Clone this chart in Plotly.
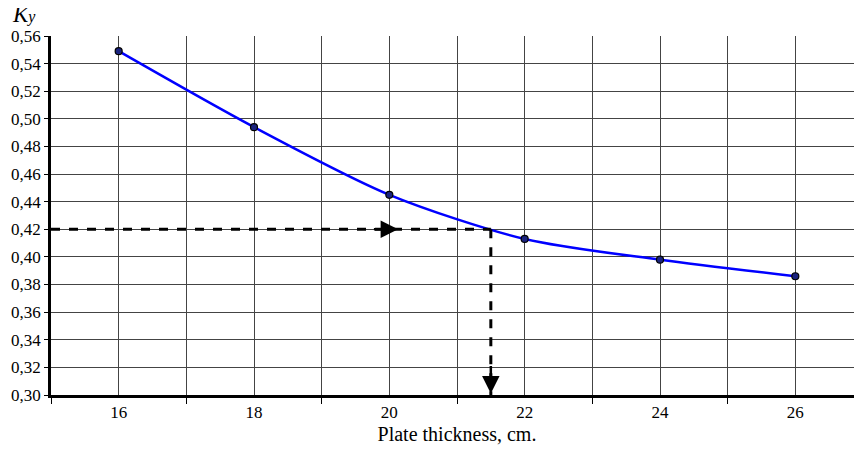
import plotly.graph_objects as go

thickness = [16, 18, 20, 22, 24, 26]
ky_values = [0.549, 0.494, 0.445, 0.413, 0.398, 0.386]
x_label_vals = [16, 18, 20, 22, 24, 26]
x_minor_vals = [15, 17, 19, 21, 23, 25, 27]
y_tick_vals = [0.30, 0.32, 0.34, 0.36, 0.38, 0.40, 0.42, 0.44, 0.46, 0.48, 0.50, 0.52, 0.54, 0.56]
y_tick_text = [f"{v:.2f}".replace(".", ",") for v in y_tick_vals]
read_ky = 0.42
read_thickness = 21.5

FONT = "Liberation Serif, Times New Roman, serif"
GRID = "#444444"

fig = go.Figure()
fig.add_trace(go.Scatter(
    x=thickness, y=ky_values, mode="lines+markers",
    line=dict(color="#0000FF", width=2.5, shape="spline", smoothing=0.8),
    marker=dict(size=7, color="#1a237e", line=dict(color="black", width=1.2)),
    showlegend=False, hoverinfo="x+y",
))

# dashed reading lines
fig.add_shape(type="line", x0=15, x1=read_thickness, y0=read_ky, y1=read_ky,
              line=dict(color="black", width=3, dash="dash"), layer="above")
fig.add_shape(type="line", x0=read_thickness, x1=read_thickness, y0=read_ky, y1=0.30,
              line=dict(color="black", width=3, dash="dash"), layer="above")

# arrows
fig.add_annotation(x=20.13, y=read_ky, ax=19.75, ay=read_ky, xref="x", yref="y",
                   axref="x", ayref="y", text="", showarrow=True,
                   arrowhead=2, arrowsize=1.4, arrowwidth=2.5, arrowcolor="black")
fig.add_annotation(x=read_thickness, y=0.301, ax=read_thickness, ay=0.322, xref="x", yref="y",
                   axref="x", ayref="y", text="", showarrow=True,
                   arrowhead=2, arrowsize=1.4, arrowwidth=2.5, arrowcolor="black")

fig.add_annotation(x=-0.05, y=1.10, xref="paper", yref="paper", xanchor="left", yanchor="top",
                   text="<i>K<span style='font-size:16px'>y</span></i>", showarrow=False,
                   font=dict(family=FONT, size=23, color="black"))

fig.update_xaxes(
    range=[15, 27], tickvals=x_label_vals, ticktext=[str(v) for v in x_label_vals],
    ticks="", showgrid=True, gridcolor=GRID, gridwidth=1, automargin=False,
    minor=dict(tickvals=x_minor_vals, ticks="outside", ticklen=6, tickcolor="black",
               tickwidth=1, showgrid=True, gridcolor=GRID, gridwidth=1),
    showline=True, linecolor="black", linewidth=3, zeroline=False,
    tickfont=dict(family=FONT, size=17, color="black"),
    title=dict(text="Plate thickness, cm.", font=dict(family=FONT, size=20, color="black"), standoff=6),
)
fig.update_yaxes(
    range=[0.30, 0.56], tickvals=y_tick_vals, ticktext=y_tick_text,
    ticks="outside", ticklen=4, tickcolor="black", automargin=False,
    showgrid=True, gridcolor=GRID, gridwidth=1,
    showline=True, linecolor="black", linewidth=2.5, zeroline=False,
    tickfont=dict(family=FONT, size=17, color="black"),
)
fig.update_layout(
    width=855, height=441,
    margin=dict(l=43, r=0, t=28, b=54),
    plot_bgcolor="white", paper_bgcolor="white",
    font=dict(family=FONT, color="black"),
)
fig.write_html("out.html")
